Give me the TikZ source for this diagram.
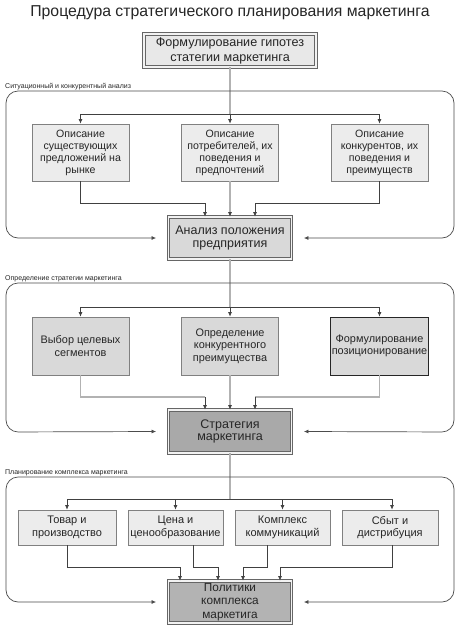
\documentclass[tikz,border=0pt]{standalone}
\usepackage{fontspec}
\setmainfont{Liberation Sans}
\usetikzlibrary{arrows.meta,calc}
\definecolor{fillA}{HTML}{E8E8E8}
\definecolor{fillB}{HTML}{ECECEC}
\definecolor{fillC}{HTML}{D9D9D9}
\definecolor{fillD}{HTML}{A9A9A9}
\definecolor{fillE}{HTML}{B3B3B3}
\begin{document}
\begin{tikzpicture}[x=1pt,y=-1pt,
  box/.style={draw=black!50, line width=0.7pt, align=center, inner sep=1pt, text=black!85},
  smallbox/.style={box, fill=fillB, minimum width=97pt, minimum height=57pt, font=\fontsize{10.6}{12}\selectfont},
  midbox/.style={box, fill=fillC, minimum width=97pt, minimum height=58pt, font=\fontsize{10.9}{12.5}\selectfont},
  mixbox/.style={box, fill=fillB, minimum height=35pt, font=\fontsize{11}{12.5}\selectfont},
  bigbox/.style={box, draw=black!60, double=white!95!black, double distance=1.3pt, line width=0.9pt, minimum width=123pt},
  mainline/.style={draw=black!30, line width=2pt},
  thinline/.style={draw=black!75, line width=0.7pt},
  arr/.style={thinline, -{Latex[length=4.5pt,width=4pt]}},
  frame/.style={draw=black!70, line width=0.7pt, rounded corners=12pt, {Latex[length=4.5pt,width=4pt]}-{Latex[length=4.5pt,width=4pt]}},
  grouplabel/.style={anchor=south west, inner sep=0pt, font=\fontsize{7}{8}\selectfont, text=black!85}
]
\useasboundingbox (0,0) rectangle (460,630);
\fill[white] (0,0) rectangle (460,630);

% title
\node[font=\fontsize{15.8}{18}\selectfont, text=black!85] (title) at (230,13) {Процедура стратегического планирования маркетинга};

% top box
\node[bigbox, fill=fillA, minimum width=172pt, minimum height=33pt, font=\fontsize{12.6}{15}\selectfont] (top) at (230,50.5) {Формулирование гипотез\\статегии маркетинга};

% ---------- section 1
\node[grouplabel] (lab1) at (5,90) {Ситуационный и конкурентный анализ};
\node[smallbox] (a1) at (80.5,152.5) {Описание\\существующих\\предложений на\\рынке};
\node[smallbox] (a2) at (230,152.5) {Описание\\потребителей, их\\поведения и\\предпочтений};
\node[smallbox] (a3) at (379.5,152.5) {Описание\\конкурентов, их\\поведения и\\преимуществ};
\node[bigbox, fill=fillC, minimum height=42pt, font=\fontsize{12.5}{13.6}\selectfont] (ana) at (230,238) {Анализ положения\\предприятия};

\coordinate (j1) at (230,114);
\coordinate (m1l) at (205,203);
\coordinate (m1r) at (255,203);
\draw[mainline] (top.south) -- (j1);
\draw[thinline] (a1.north |- j1) -- (a3.north |- j1);
\draw[arr] (a1.north |- j1) -- (a1.north);
\draw[arr] (j1) -- (a2.north);
\draw[arr] (a3.north |- j1) -- (a3.north);
\draw[mainline] (a2.south) -- ($(ana.north)+(0,-4)$);
\draw[arr] ($(ana.north)+(0,-5)$) -- (ana.north);
\draw[thinline] (a1.south) |- (m1l);
\draw[arr] (m1l) -- (m1l |- ana.north);
\draw[thinline] (a3.south) |- (m1r);
\draw[arr] (m1r) -- (m1r |- ana.north);
\draw[frame] ($(ana.west)+(-12,0)$) -- (6,238) -- (6,91) -- (454,91) -- (454,238) -- ($(ana.east)+(12,0)$);

% ---------- section 2
\node[grouplabel] (lab2) at (5,282) {Определение стратегии маркетинга};
\node[midbox] (b1) at (80.5,346) {Выбор целевых\\сегментов};
\node[midbox] (b2) at (230,346) {Определение\\конкурентного\\преимущества};
\node[midbox, draw=black!85] (b3) at (379.5,346) {Формулирование\\позиционирование};
\node[bigbox, fill=fillD, minimum height=43pt, font=\fontsize{12.5}{12.8}\selectfont] (str) at (230,431.5) {Стратегия\\маркетинга};

\coordinate (j2) at (230,307);
\coordinate (m2l) at (205,397);
\coordinate (m2r) at (255,397);
\draw[mainline] (ana.south) -- (j2);
\draw[thinline] (b1.north |- j2) -- (b3.north |- j2);
\draw[arr] (b1.north |- j2) -- (b1.north);
\draw[arr] (j2) -- (b2.north);
\draw[arr] (b3.north |- j2) -- (b3.north);
\draw[mainline] (b2.south) -- ($(str.north)+(0,-4)$);
\draw[arr] ($(str.north)+(0,-5)$) -- (str.north);
\draw[mainline, line width=1.4pt] (b1.south) |- (m2l);
\draw[arr] (m2l) -- (m2l |- str.north);
\draw[mainline, line width=1.4pt] (b3.south) |- (m2r);
\draw[arr] (m2r) -- (m2r |- str.north);
\draw[frame] ($(str.west)+(-12,0)$) -- (6,432) -- (6,283) -- (454,283) -- (454,432) -- ($(str.east)+(12,0)$);

% ---------- section 3
\node[grouplabel] (lab3) at (5,476) {Планирование комплекса маркетинга};
\node[mixbox, minimum width=98pt] (c1) at (67,527.5) {Товар и\\производство};
\node[mixbox, minimum width=95pt] (c2) at (175.5,527.5) {Цена и\\ценообразование};
\node[mixbox, minimum width=95pt] (c3) at (282.5,527.5) {Комплекс\\коммуникаций};
\node[mixbox, minimum width=96pt] (c4) at (390,527.5) {Сбыт и\\дистрибуция};
\node[bigbox, fill=fillE, minimum height=42pt, font=\fontsize{11.8}{13.5}\selectfont] (pol) at (230,602) {Политики\\комплекса\\маркетига};

\coordinate (j3) at (230,499);
\coordinate (m3a) at (180,567);
\coordinate (m3b) at (218,567);
\coordinate (m3c) at (243,567);
\coordinate (m3d) at (280,567);
\draw[mainline] (str.south) -- (j3);
\draw[thinline] (c1.north |- j3) -- ($(c4.north |- j3)+(2,0)$);
\draw[arr] (c1.north |- j3) -- (c1.north);
\draw[arr] (c2.north |- j3) -- (c2.north);
\draw[arr] (c3.north |- j3) -- (c3.north);
\draw[arr] ($(c4.north |- j3)+(2,0)$) -- ($(c4.north)+(2,0)$);
\draw[thinline] (c1.south) |- (m3a);
\draw[arr] (m3a) -- (m3a |- pol.north);
\draw[thinline] ($(c2.south)+(17.5,0)$) |- (m3b);
\draw[arr] (m3b) -- (m3b |- pol.north);
\draw[thinline] ($(c3.south)+(-15.5,0)$) |- (m3c);
\draw[arr] (m3c) -- (m3c |- pol.north);
\draw[thinline] ($(c4.south)+(2,0)$) |- (m3d);
\draw[arr] (m3d) -- (m3d |- pol.north);
\draw[frame] ($(pol.west)+(-12,0)$) -- (6,602) -- (6,477) -- (454,477) -- (454,602) -- ($(pol.east)+(12,0)$);
\end{tikzpicture}
\end{document}
